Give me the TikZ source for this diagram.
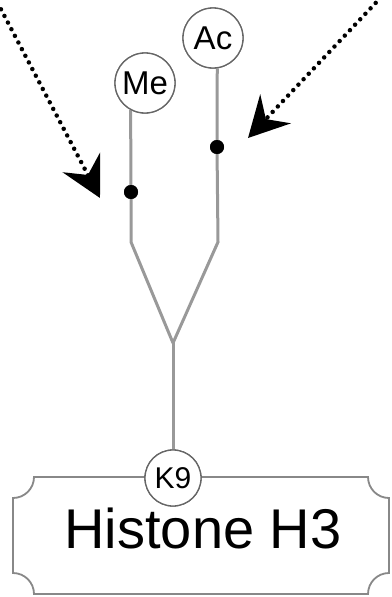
\documentclass[tikz,border=0pt]{standalone}
\usepackage{fontspec}
\setmainfont{Liberation Sans}
\usetikzlibrary{arrows.meta}
\definecolor{lgray}{HTML}{999999}
\definecolor{cgray}{HTML}{666666}
\definecolor{bgray}{HTML}{888888}
\tikzset{
  modcirc/.style={circle, draw=cgray, line width=1.3pt, fill=white, minimum size=60pt, inner sep=0pt, font=\fontsize{33}{35}\selectfont},
  kcirc/.style={circle, draw=cgray, line width=1.3pt, fill=white, minimum size=56pt, inner sep=0pt, font=\fontsize{30}{32}\selectfont},
  gline/.style={draw=lgray, line width=3pt},
  dotnode/.style={circle, fill=black, minimum size=14pt, inner sep=0pt},
  dotarrow/.style={line width=4.5pt, line cap=round, dash pattern=on 0pt off 7.5pt, -{Stealth[length=40pt, width=42pt, inset=14pt]}},
  boxline/.style={draw=bgray, line width=1.8pt, fill=white}
}
\begin{document}
\begin{tikzpicture}[x=1pt, y=-1pt]
\useasboundingbox (0,0) rectangle (391,597);
\clip (0,0) rectangle (391,597);
% box
\path[boxline] (34,477) -- (368,477) arc[start angle=180, end angle=90, radius=21]
  -- (389,573) arc[start angle=270, end angle=180, radius=21]
  -- (34,594) arc[start angle=0, end angle=-90, radius=21]
  -- (13,498) arc[start angle=90, end angle=0, radius=21] -- cycle;
\node[anchor=base, font=\fontsize{56}{60}\selectfont, inner sep=0pt] (h3) at (203,548) {Histone H3};
% nodes
\node[modcirc] (me) at (145,83) {Me};
\node[modcirc] (ac) at (213,38) {Ac};
\node[kcirc] (k9) at (173,478) {K9};
\coordinate (meV) at (131,242);
\coordinate (acV) at (218,242);
\coordinate (vbot) at (173,343);
\node[dotnode] (medot) at (131,192) {};
\node[dotnode] (acdot) at (217,147) {};
% grey lines
\draw[gline] (me.-118) -- (medot.center) -- (meV) -- (vbot);
\draw[gline] (ac.-82) -- (acdot.center) -- (acV) -- (vbot);
\draw[gline] (vbot) -- (k9.north);
% redraw circles on top
\node[modcirc] at (145,83) {Me};
\node[modcirc] at (213,38) {Ac};
\node[kcirc] at (173,478) {K9};
\node[dotnode] at (131,192) {};
\node[dotnode] at (217,147) {};
% arrows
\coordinate (l0) at (-6,-4);
\coordinate (l1) at (100,198);
\coordinate (r0) at (386,-8);
\coordinate (r1) at (248,138);
\draw[dotarrow] (l0) -- (l1);
\draw[dotarrow] (r0) -- (r1);
\end{tikzpicture}
\end{document}
